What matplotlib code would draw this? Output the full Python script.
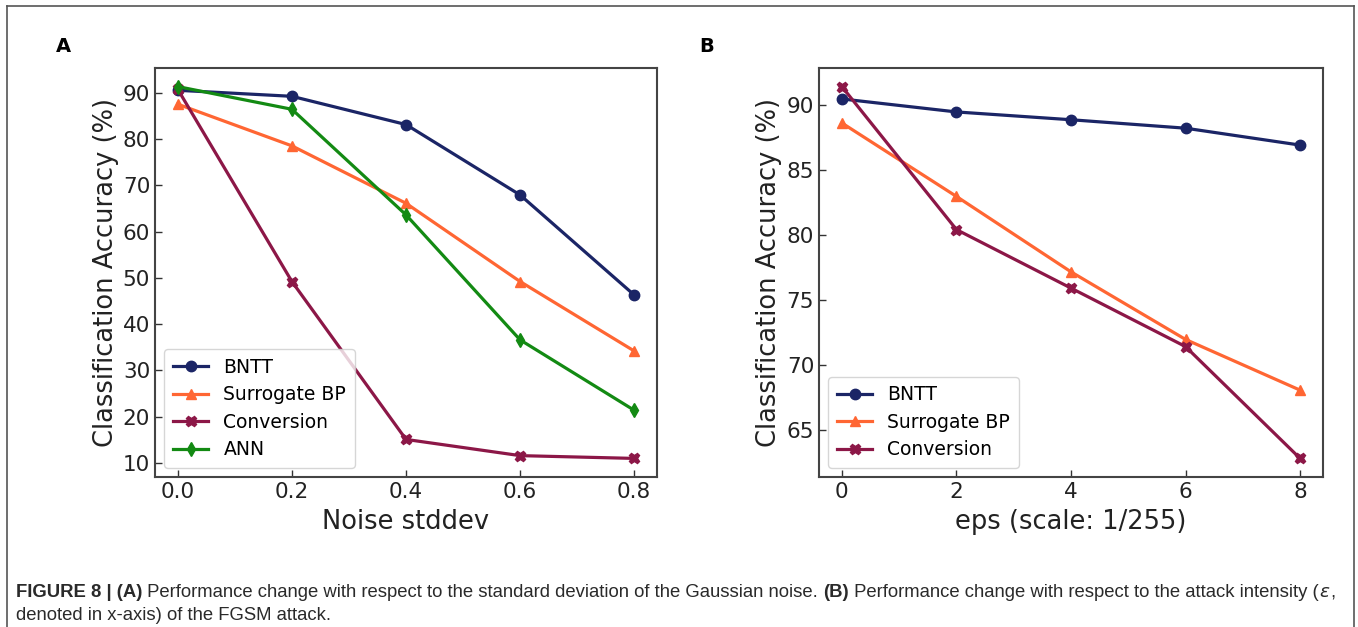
import matplotlib
matplotlib.use("Agg")
import matplotlib.pyplot as plt
from matplotlib.lines import Line2D

# ---- data ----
noise_x = [0.0, 0.2, 0.4, 0.6, 0.8]
noise_bntt = [90.5, 89.2, 83.1, 67.9, 46.3]
noise_surrogate = [87.5, 78.5, 66.1, 49.2, 34.2]
noise_conversion = [90.7, 49.2, 15.1, 11.6, 11.0]
noise_ann = [91.3, 86.4, 63.6, 36.6, 21.4]

eps_x = [0, 2, 4, 6, 8]
eps_bntt = [90.5, 89.5, 88.9, 88.25, 86.95]
eps_surrogate = [88.65, 83.0, 77.2, 72.0, 68.1]
eps_conversion = [91.45, 80.45, 75.95, 71.45, 62.85]

series_names = ["BNTT", "Surrogate BP", "Conversion", "ANN"]
colors = {"BNTT": "#1b2566", "Surrogate BP": "#ff6633", "Conversion": "#8c1747", "ANN": "#138a13"}
markers = {"BNTT": "o", "Surrogate BP": "^", "Conversion": "X", "ANN": "d"}

W, H = 1358, 627
fig = plt.figure(figsize=(W / 100, H / 100), dpi=100)
plt.rcParams['font.family'] = ['DejaVu Sans']

def px_axes(l, t, r, b):
    return fig.add_axes([l / W, 1 - b / H, (r - l) / W, (b - t) / H])

axA = px_axes(155, 68, 657, 477)
axB = px_axes(819, 68, 1323, 477)

def style(ax):
    ax.tick_params(direction='in', labelsize=15.5, length=5, width=1, colors='#333333', labelcolor='#222222')
    for s in ax.spines.values():
        s.set_linewidth(1.5)
        s.set_color('#444444')

leg_kw = dict(loc='lower left', fontsize=13.5, handlelength=1.9, handletextpad=0.8,
              labelspacing=0.45, borderpad=0.45)

for name, ys in zip(series_names, [noise_bntt, noise_surrogate, noise_conversion, noise_ann]):
    axA.plot(noise_x, ys, color=colors[name], marker=markers[name], lw=2.3, ms=7.5, label=name)
axA.set_xticks([0.0, 0.2, 0.4, 0.6, 0.8])
axA.set_yticks([10, 20, 30, 40, 50, 60, 70, 80, 90])
axA.set_xlabel("Noise stddev", fontsize=18.5, color='#222222', labelpad=5)
axA.set_ylabel("Classification Accuracy (%)", fontsize=18.5, color='#222222', labelpad=3)
axA.legend(**leg_kw)
style(axA)

for name, ys in zip(series_names[:3], [eps_bntt, eps_surrogate, eps_conversion]):
    axB.plot(eps_x, ys, color=colors[name], marker=markers[name], lw=2.3, ms=7.5, label=name)
axB.set_xticks([0, 2, 4, 6, 8])
axB.set_yticks([65, 70, 75, 80, 85, 90])
axB.set_xlabel("eps (scale: 1/255)", fontsize=18.5, color='#222222', labelpad=5)
axB.set_ylabel("Classification Accuracy (%)", fontsize=18.5, color='#222222', labelpad=3)
axB.legend(**leg_kw)
style(axB)

# panel letters
fig.text(63 / W, 1 - 47 / H, "A", fontsize=14, fontweight='bold', ha='center', va='center')
fig.text(707 / W, 1 - 47 / H, "B", fontsize=14, fontweight='bold', ha='center', va='center')

# outer frame
for xs, ys in [([7, 7], [700, 6]), ([7, 1354], [6, 6]), ([1354, 1354], [6, 700])]:
    fig.add_artist(Line2D([x / W for x in xs], [1 - y / H for y in ys], color='#555555', lw=1.2))

# caption
cap_family = ['Liberation Sans Narrow', 'Liberation Sans', 'DejaVu Sans']
cap_size = 13.3
line1 = [("FIGURE 8 | (A)", 'bold'),
         (" Performance change with respect to the standard deviation of the Gaussian noise. ", 'normal'),
         ("(B)", 'bold'),
         (" Performance change with respect to the attack intensity (", 'normal'),
         (r"$\epsilon$", 'normal'),
         (",", 'normal')]
line2 = [("denoted in x-axis) of the FGSM attack.", 'normal')]

renderer = fig.canvas.get_renderer()
for pieces, ybase in [(line1, 597), (line2, 620)]:
    x = 16
    for txt, wt in pieces:
        t = fig.text(x / W, 1 - ybase / H, txt, fontsize=cap_size, fontweight=wt,
                     family=cap_family, color='#2a2a2a', ha='left', va='baseline')
        bb = t.get_window_extent(renderer=renderer)
        x += bb.width

fig.savefig("out.png", dpi=100)
